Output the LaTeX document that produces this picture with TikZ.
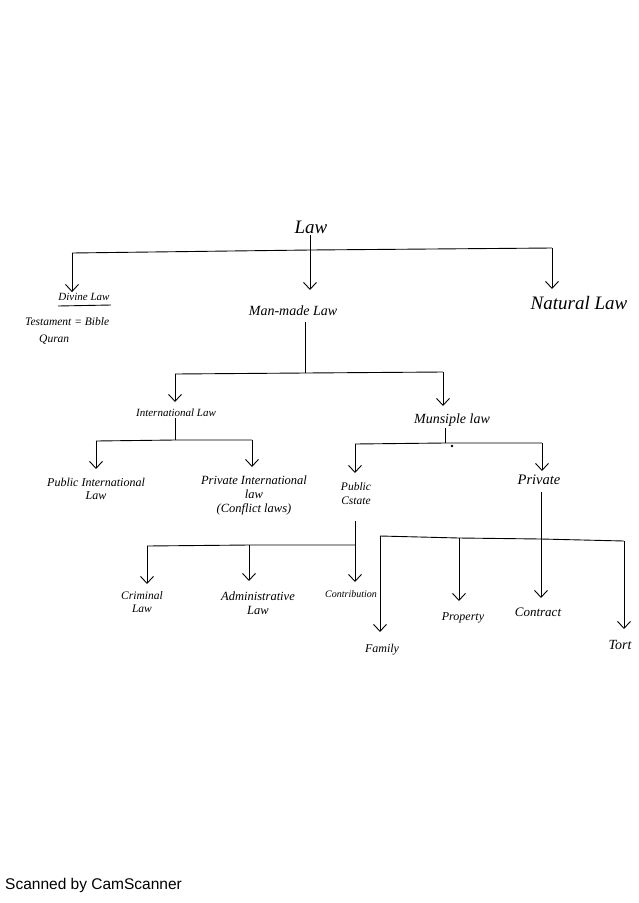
\documentclass[tikz,border=0pt]{standalone}
\usepackage{fontspec}
\setmainfont{Liberation Serif}
\setsansfont{Liberation Sans}
\usetikzlibrary{arrows.meta}
\begin{document}
\begin{tikzpicture}[x=1pt,y=-1pt,
  hand/.style={font=\itshape\fontsize{11}{12}\selectfont, inner sep=1pt, align=center},
  big/.style={font=\itshape\fontsize{14}{16}\selectfont, inner sep=1pt},
  link/.style={line width=0.9pt},
  arr/.style={line width=0.9pt, -{Straight Barb[length=7pt,width=13pt,line width=0.9pt]}}]
\useasboundingbox (0,0) rectangle (638,903);
\fill[white] (0,0) rectangle (638,903);

% nodes
\node[big, font=\itshape\fontsize{19}{21}\selectfont] (law) at (311,227) {Law};
\node[hand, font=\itshape\fontsize{11}{12}\selectfont] (divine) at (84,297) {Divine Law};
\draw[link] (58,306) -- (111,305);
\node[hand, font=\itshape\fontsize{11.5}{12}\selectfont, anchor=west] (test) at (24,322) {Testament = Bible};
\node[hand, font=\itshape\fontsize{11.5}{12}\selectfont, anchor=west] (quran) at (38,340) {Quran};
\node[big] (man) at (293,311) {Man-made Law};
\node[big, font=\itshape\fontsize{19}{21}\selectfont] (nat) at (579,303) {Natural Law};

\node[hand] (intl) at (176,413) {International Law};
\node[big, font=\itshape\fontsize{14}{16}\selectfont] (muni) at (452,420) {Munsiple law};

\node[hand, font=\itshape\fontsize{12}{13.5}\selectfont] (pil) at (96,489) {Public International\\Law};
\node[hand, font=\itshape\fontsize{12.5}{14}\selectfont] (prl) at (254,495) {Private International\\law\\(Conflict laws)};
\node[hand, font=\itshape\fontsize{11.5}{14}\selectfont] (pub) at (356,494) {Public\\Cstate};
\node[hand, font=\itshape\fontsize{14.5}{16}\selectfont] (priv) at (539,480) {Private};

\node[hand, font=\itshape\fontsize{11.5}{13}\selectfont] (crim) at (142,602) {Criminal\\Law};
\node[hand, font=\itshape\fontsize{12.5}{14}\selectfont] (admin) at (258,603) {Administrative\\Law};
\node[hand, font=\itshape\fontsize{10}{12}\selectfont] (cons) at (351,594) {Contribution};

\node[hand, font=\itshape\fontsize{12}{14}\selectfont] (fam) at (382,650) {Family};
\node[hand, font=\itshape\fontsize{12}{14}\selectfont] (prop) at (463,618) {Property};
\node[hand, font=\itshape\fontsize{13}{15}\selectfont] (cont) at (538,612) {Contract};
\node[hand, font=\itshape\fontsize{14}{16}\selectfont] (tort) at (620,645) {Tort};

% level 1
\coordinate (b1l) at (72,253);
\coordinate (b1m) at (310,250);
\coordinate (b1r) at (552,248);
\coordinate (b1e) at (310,290);
\draw[link] (b1l) -- (b1m) -- (b1r);
\draw[arr] (law.south -| b1m) -- (b1e);
\draw[arr] (b1l) -- (divine.north -| b1l);
\draw[arr] (b1r) -- (552,289);

% level 2 (man-made)
\coordinate (b2m) at (305,373);
\coordinate (b2l) at (175,374);
\coordinate (b2r) at (443,372);
\draw[link] (305,322) -- (b2m);
\draw[link] (b2l) -- (b2m) -- (b2r);
\draw[arr] (b2l) -- (175,402);
\draw[arr] (b2r) -- (443,406);

% international
\coordinate (b3m) at (175,440);
\coordinate (b3l) at (96,441);
\coordinate (b3r) at (252,440);
\draw[link] (intl.south -| b3m) -- (b3m);
\draw[link] (b3l) -- (b3m) -- (b3r);
\draw[arr] (b3l) -- (96,469);
\draw[arr] (b3r) -- (252,467);

% municipal
\coordinate (b4m) at (445,443);
\coordinate (b4l) at (355,444);
\coordinate (b4r) at (542,443);
\draw[link] (muni.south -| b4m) -- (b4m);
\draw[link] (b4l) -- (b4m) -- (b4r);
\fill (452,446) circle (1.3pt);
\draw[arr] (b4l) -- (355,473);
\draw[arr] (b4r) -- (542,471);

% public estate
\coordinate (b5m) at (355,545);
\coordinate (b5l) at (147,546);
\coordinate (b5c) at (249,545);
\draw[link] (355,521) -- (b5m);
\draw[link] (b5l) -- (b5c) -- (b5m);
\draw[arr] (b5l) -- (147,584);
\draw[arr] (b5c) -- (249,581);
\draw[arr] (b5m) -- (355,582);

% private
\coordinate (b6m) at (541,539);
\coordinate (b6a) at (380,536);
\coordinate (b6b) at (459,538);
\coordinate (b6d) at (624,541);
\draw[link] (541,492) -- (b6m);
\draw[link] (b6a) -- (b6b) -- (b6m) -- (b6d);
\draw[arr] (b6a) -- (380,632);
\draw[arr] (b6b) -- (459,601);
\draw[arr] (b6m) -- (541,598);
\draw[arr] (b6d) -- (624,629);

\node[font=\sffamily\fontsize{15.5}{17}\selectfont, anchor=west, inner sep=0pt] (scan) at (5,885) {Scanned by CamScanner};
\end{tikzpicture}
\end{document}
